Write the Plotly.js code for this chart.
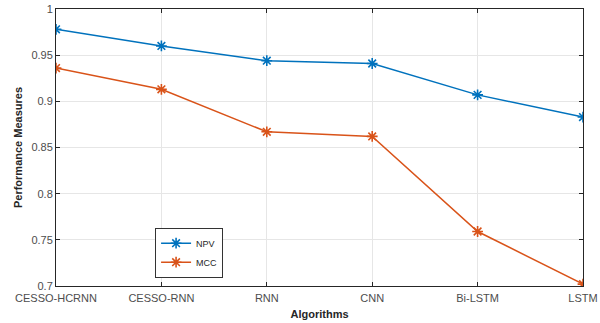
<!DOCTYPE html>
<html><head><meta charset="utf-8">
<script src="https://cdn.plot.ly/plotly-3.0.1.min.js"></script>
<style>body{margin:0;background:#fff}#c{width:600px;height:323px}</style>
</head><body><div id="c"></div>
<script>
const categories = ["CESSO-HCRNN","CESSO-RNN","RNN","CNN","Bi-LSTM","LSTM"];
const npv = [0.978,0.960,0.944,0.941,0.907,0.883];
const mcc = [0.936,0.913,0.867,0.862,0.759,0.702];
const yTicks = [0.7,0.75,0.8,0.85,0.9,0.95,1];
const yTickText = ["0.7","0.75","0.8","0.85","0.9","0.95","1"];

const mk = (name, y, color) => ({
  x: categories, y: y, name: name, type: 'scatter', mode: 'lines+markers',
  line: {color: color, width: 1.5},
  marker: {symbol: 'asterisk-open', size: 9, color: color, line: {color: color, width: 1.6}}
});
const axisCommon = {
  showline: true, mirror: 'ticks', linecolor: '#262626', linewidth: 1,
  ticks: 'inside', ticklen: 4, tickcolor: '#262626',
  showgrid: true, gridcolor: '#e6e6e6', gridwidth: 1, zeroline: false,
  tickfont: {family: 'Liberation Sans, Arial, sans-serif', size: 11, color: '#4d4d4d'}
};
const layout = {
  width: 600, height: 323,
  margin: {l: 56, r: 17, t: 9, b: 37},
  paper_bgcolor: '#fff', plot_bgcolor: '#fff',
  font: {family: 'Liberation Sans, Arial, sans-serif'},
  xaxis: Object.assign({}, axisCommon, {
    type: 'category', range: [0, 5], ticklabelstandoff: 2,
    title: {text: 'Algorithms', standoff: 7, font: {size: 11, color: '#262626', weight: 'bold'}}
  }),
  yaxis: Object.assign({}, axisCommon, {
    range: [0.7, 1], tickvals: yTicks, ticktext: yTickText,
    title: {text: 'Performance Measures', standoff: 6, font: {size: 11, color: '#262626', weight: 'bold'}}
  }),
  showlegend: true,
  legend: {x: 0.188, y: 0.03, xanchor: 'left', yanchor: 'bottom',
    bgcolor: '#fff', bordercolor: '#333', borderwidth: 1,
    font: {size: 9, color: '#262626'}, tracegroupgap: 0, itemwidth: 30}
};
Plotly.newPlot('c', [mk('NPV', npv, '#0072BD'), mk('MCC', mcc, '#D95319')], layout, {displayModeBar: false, staticPlot: true});
</script></body></html>
